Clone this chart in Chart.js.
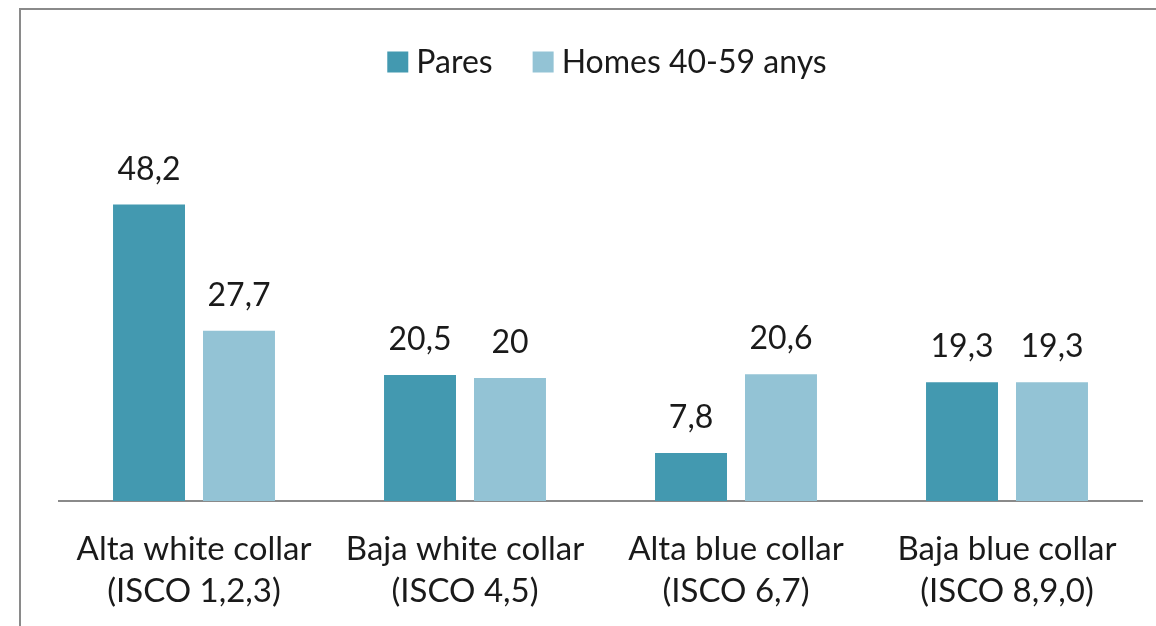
<!DOCTYPE html>
<html>
<head>
<meta charset="utf-8">
<script src="https://cdn.jsdelivr.net/npm/chart.js@4.4.0/dist/chart.umd.min.js"></script>
<style>
  html, body { margin: 0; padding: 0; background: #fff; overflow: hidden; }
  #wrap { position: relative; width: 1156px; height: 626px; }
  #frame { position: absolute; left: 19px; top: 8px; width: 1200px; height: 700px;
           border-top: 2px solid #8a8a8a; border-left: 2px solid #8a8a8a; box-sizing: border-box; }
  canvas { position: absolute; left: 0; top: 0; }
</style>
</head>
<body>
<div id="wrap">
  <div id="frame"></div>
  <canvas id="chart" width="1156" height="626"></canvas>
</div>
<script>
// Data
const categories = [
    ['Alta white collar', '(ISCO 1,2,3)'],
    ['Baja white collar', '(ISCO 4,5)'],
    ['Alta blue collar', '(ISCO 6,7)'],
    ['Baja blue collar', '(ISCO 8,9,0)']
];
const seriesNames = ['Pares', 'Homes 40-59 anys'];
const paresValues = [48.2, 20.5, 7.8, 19.3];
const homesValues = [27.7, 20, 20.6, 19.3];
const seriesColors = ['#4399b0', '#93c3d5'];

const FONT = 'Lato, "Open Sans", sans-serif';
const fmt = v => String(v).replace('.', ',');

// value labels above bars
const valueLabels = {
    id: 'valueLabels',
    afterDatasetsDraw(chart) {
        const ctx = chart.ctx;
        ctx.save();
        ctx.font = '32px ' + FONT;
        ctx.fillStyle = '#1a1a1a';
        ctx.textAlign = 'center';
        ctx.textBaseline = 'alphabetic';
        chart.data.datasets.forEach((ds, i) => {
            chart.getDatasetMeta(i).data.forEach((bar, j) => {
                ctx.fillText(fmt(ds.data[j]), bar.x, bar.y - 25);
            });
        });
        ctx.restore();
    }
};

// legend drawn at a fixed spot so the plot area stays put
const topLegend = {
    id: 'topLegend',
    afterDraw(chart) {
        const ctx = chart.ctx;
        ctx.save();
        ctx.font = '32px ' + FONT;
        ctx.textBaseline = 'middle';
        ctx.textAlign = 'left';
        const box = 21, gapBox = 8, gapItem = 40;
        const widths = chart.data.datasets.map(ds => box + gapBox + ctx.measureText(ds.label).width);
        const total = widths.reduce((a, b) => a + b, 0) + gapItem * (widths.length - 1);
        let x = 607 - total / 2;
        const cy = 62;
        chart.data.datasets.forEach((ds, i) => {
            ctx.fillStyle = ds.backgroundColor;
            ctx.fillRect(x, cy - box / 2, box, box);
            ctx.fillStyle = '#1a1a1a';
            ctx.fillText(ds.label, x + box + gapBox, cy + 1);
            x += widths[i] + gapItem;
        });
        ctx.restore();
    }
};

const ctx = document.getElementById('chart').getContext('2d');
const chart = new Chart(ctx, {
    type: 'bar',
    data: {
        labels: categories,
        datasets: [
            { label: seriesNames[0], data: paresValues, backgroundColor: seriesColors[0] },
            { label: seriesNames[1], data: homesValues, backgroundColor: seriesColors[1] }
        ]
    },
    options: {
        responsive: false,
        animation: false,
        categoryPercentage: 0.664,
        barPercentage: 0.8,
        layout: { padding: { left: 58.5, right: 13.5, top: 132, bottom: 0 } },
        plugins: { legend: { display: false }, tooltip: { enabled: false } },
        scales: {
            y: { display: false, min: 0, max: 60 },
            x: {
                grid: { display: false, drawTicks: false },
                border: { display: true, color: '#8a8a8a', width: 2 },
                ticks: {
                    color: '#1a1a1a',
                    padding: 27,
                    font: { family: FONT, size: 33, lineHeight: 1.27 }
                },
                afterFit(scale) { scale.height = 125; }
            }
        }
    },
    plugins: [valueLabels, topLegend]
});
</script>
</body>
</html>
